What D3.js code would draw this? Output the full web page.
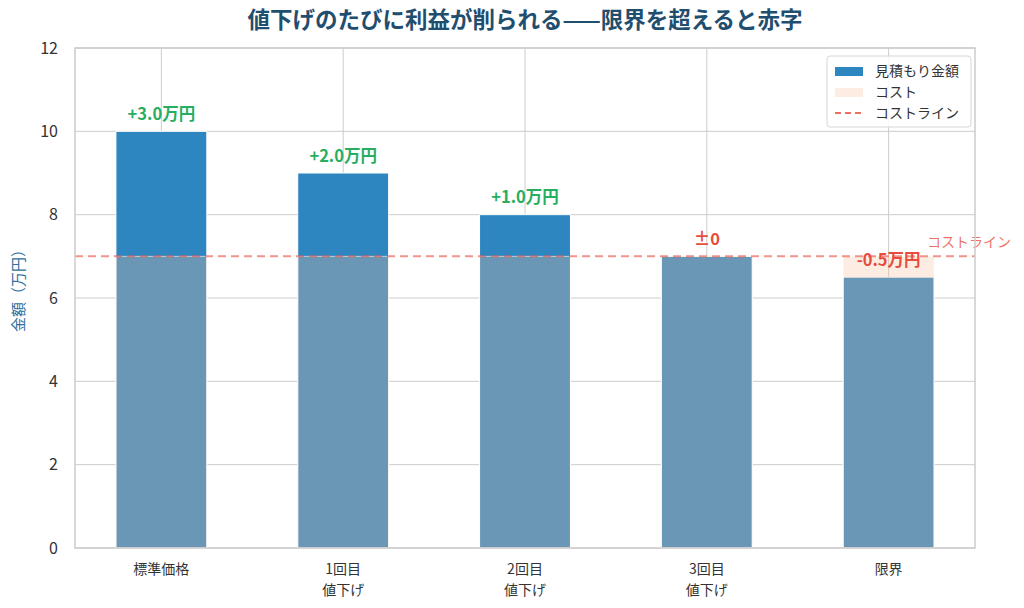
<!DOCTYPE html>
<html>
<head>
<meta charset="utf-8">
<script src="https://cdn.jsdelivr.net/npm/d3@7"></script>
<style>
  body { margin: 0; background: #fff; }
  text { font-family: "Noto Sans CJK JP", "Noto Sans", sans-serif; }
</style>
</head>
<body>
<div id="chart"></div>
<script>
// data
var categories = ["標準価格", "1回目\n値下げ", "2回目\n値下げ", "3回目\n値下げ", "限界"];
var prices = [10, 9, 8, 7, 6.5];
var cost = 7;
var yTicks = [0, 2, 4, 6, 8, 10, 12];

var W = 1024, H = 608;
var margin = {top: 48, right: 49, bottom: 60, left: 75},
    width = W - margin.left - margin.right,
    height = H - margin.top - margin.bottom;

var svg = d3.select("#chart").append("svg")
    .attr("width", W).attr("height", H);

// title
svg.append("text")
  .attr("x", margin.left + width / 2).attr("y", 28)
  .attr("text-anchor", "middle")
  .attr("font-size", 22.5).attr("font-weight", "bold")
  .attr("fill", "#1f4e6e")
  .text("値下げのたびに利益が削られる——限界を超えると赤字");

var g = svg.append("g")
  .attr("transform", "translate(" + margin.left + "," + margin.top + ")");

var x = d3.scaleLinear().domain([-0.475, categories.length - 1 + 0.475]).range([0, width]);
var y = d3.scaleLinear().domain([0, 12]).range([height, 0]);
var barW = x(0.5) - x(0);

// grid
g.append("g").selectAll("line").data(yTicks).join("line")
  .attr("x1", 0).attr("x2", width)
  .attr("y1", d => y(d)).attr("y2", d => y(d))
  .attr("stroke", "#cccccc").attr("stroke-width", 1);
g.append("g").selectAll("line").data(categories).join("line")
  .attr("x1", (d, i) => x(i)).attr("x2", (d, i) => x(i))
  .attr("y1", 0).attr("y2", height)
  .attr("stroke", "#cccccc").attr("stroke-width", 1);

// price bars
g.append("g").selectAll("rect").data(prices).join("rect")
  .attr("x", (d, i) => x(i) - barW / 2)
  .attr("width", barW)
  .attr("y", d => y(d))
  .attr("height", d => y(0) - y(d))
  .attr("fill", "#2e86c1")
  .attr("stroke", "#ffffff").attr("stroke-width", 1);

// cost overlay
var costColor = "#f5c09e", costAlpha = 0.3;
g.append("g").selectAll("rect").data(categories).join("rect")
  .attr("x", (d, i) => x(i) - barW / 2)
  .attr("width", barW)
  .attr("y", y(cost))
  .attr("height", y(0) - y(cost))
  .attr("fill", costColor).attr("fill-opacity", costAlpha)
  .attr("stroke", "#ffffff").attr("stroke-opacity", 0.6).attr("stroke-width", 1);

// cost line
g.append("line")
  .attr("x1", 0).attr("x2", width)
  .attr("y1", y(cost)).attr("y2", y(cost))
  .attr("stroke", "#e74c3c").attr("stroke-opacity", 0.6)
  .attr("stroke-width", 2).attr("stroke-dasharray", "8,5");
g.append("text")
  .attr("x", width - 48).attr("y", y(cost) - 9)
  .attr("font-size", 14).attr("fill", "#e74c3c").attr("fill-opacity", 0.8)
  .text("コストライン");

// profit labels
g.append("g").selectAll("text").data(prices).join("text")
  .attr("x", (d, i) => x(i))
  .attr("y", d => y(d + 0.3) + 1)
  .attr("text-anchor", "middle")
  .attr("font-size", 16.5).attr("font-weight", "bold")
  .attr("fill", d => d - cost > 0 ? "#27ae60" : "#e74c3c")
  .text(function(d) {
    var diff = d - cost;
    if (diff === 0) return "±0";
    return (diff > 0 ? "+" : "") + diff.toFixed(1) + "万円";
  });

// frame
g.append("rect")
  .attr("width", width).attr("height", height)
  .attr("fill", "none").attr("stroke", "#cccccc").attr("stroke-width", 1.5);

// y axis
var yAxis = g.append("g").call(d3.axisLeft(y).tickValues(yTicks).tickSize(0).tickPadding(17));
yAxis.select(".domain").remove();
yAxis.selectAll("text").attr("font-size", 16).attr("fill", "#333")
  .attr("font-family", "DejaVu Sans, sans-serif");

svg.append("text")
  .attr("transform", "translate(24,287) rotate(-90)")
  .attr("text-anchor", "middle")
  .attr("font-size", 15).attr("fill", "#2e6f9e")
  .text("金額（万円）");

// x labels, one text per line
categories.forEach(function(c, i) {
  c.split("\n").forEach(function(line, k) {
    g.append("text")
      .attr("x", x(i))
      .attr("y", height + 26 + k * 20.5)
      .attr("text-anchor", "middle")
      .attr("font-size", 14).attr("fill", "#333")
      .text(line);
  });
});

// legend
var lg = svg.append("g").attr("transform", "translate(827,56)");
lg.append("rect")
  .attr("width", 144).attr("height", 71).attr("rx", 3)
  .attr("fill", "#ffffff").attr("fill-opacity", 0.85)
  .attr("stroke", "#d6d6d6");
var legendItems = [
  {name: "見積もり金額", type: "patch", color: "#2e86c1", opacity: 1},
  {name: "コスト", type: "patch", color: costColor, opacity: costAlpha},
  {name: "コストライン", type: "line", color: "#e74c3c", opacity: 0.8}
];
legendItems.forEach(function(it, i) {
  var yy = 15 + i * 21;
  if (it.type === "patch") {
    lg.append("rect").attr("x", 8).attr("y", yy - 4).attr("width", 28).attr("height", 9)
      .attr("fill", it.color).attr("fill-opacity", it.opacity);
  } else {
    lg.append("line").attr("x1", 8).attr("x2", 36).attr("y1", yy).attr("y2", yy)
      .attr("stroke", it.color).attr("stroke-opacity", it.opacity)
      .attr("stroke-width", 2).attr("stroke-dasharray", "6,4");
  }
  lg.append("text").attr("x", 48).attr("y", yy + 5)
    .attr("font-size", 14).attr("fill", "#333").text(it.name);
});
</script>
</body>
</html>
